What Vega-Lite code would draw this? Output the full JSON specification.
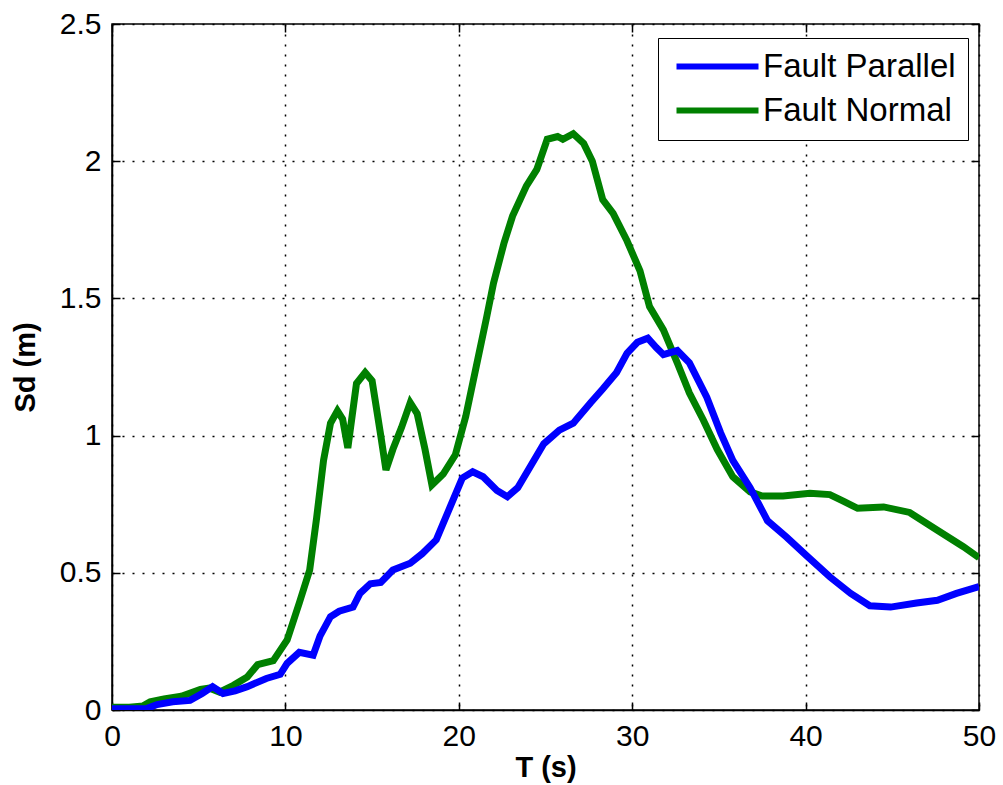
{
  "$schema": "https://vega.github.io/schema/vega-lite/v6.json",
  "width": 867,
  "height": 686,
  "autosize": {"type": "none"},
  "padding": {"left": 112, "top": 24, "right": 24, "bottom": 75},
  "background": "white",
  "config": {
    "font": "Liberation Sans",
    "view": {"stroke": "#000000", "strokeWidth": 1.5},
    "axis": {
      "labelFont": "Liberation Sans",
      "labelFontSize": 30,
      "labelColor": "#000000",
      "labelLimit": 0,
      "labelFlush": false,
      "titleFont": "Liberation Sans",
      "titleFontSize": 29,
      "titleFontWeight": "bold",
      "titleColor": "#000000",
      "domainColor": "#000000",
      "domainWidth": 1.5,
      "tickColor": "#000000",
      "tickWidth": 1.5,
      "gridColor": "#000000",
      "gridOpacity": 1,
      "gridWidth": 1.5,
      "gridDash": [2, 8]
    }
  },
  "data": {
    "values": [
      {"series": "Fault Normal", "T": 0, "Sd": 0.01},
      {"series": "Fault Normal", "T": 1, "Sd": 0.01},
      {"series": "Fault Normal", "T": 1.8, "Sd": 0.015},
      {"series": "Fault Normal", "T": 2.2, "Sd": 0.03},
      {"series": "Fault Normal", "T": 3, "Sd": 0.04},
      {"series": "Fault Normal", "T": 4, "Sd": 0.05},
      {"series": "Fault Normal", "T": 5.1, "Sd": 0.075},
      {"series": "Fault Normal", "T": 5.6, "Sd": 0.08},
      {"series": "Fault Normal", "T": 6.2, "Sd": 0.065},
      {"series": "Fault Normal", "T": 7, "Sd": 0.09},
      {"series": "Fault Normal", "T": 7.8, "Sd": 0.12},
      {"series": "Fault Normal", "T": 8.4, "Sd": 0.165},
      {"series": "Fault Normal", "T": 9.3, "Sd": 0.18},
      {"series": "Fault Normal", "T": 10.1, "Sd": 0.255},
      {"series": "Fault Normal", "T": 10.8, "Sd": 0.39},
      {"series": "Fault Normal", "T": 11.4, "Sd": 0.51},
      {"series": "Fault Normal", "T": 11.8, "Sd": 0.7},
      {"series": "Fault Normal", "T": 12.2, "Sd": 0.91},
      {"series": "Fault Normal", "T": 12.6, "Sd": 1.045},
      {"series": "Fault Normal", "T": 13.0, "Sd": 1.09},
      {"series": "Fault Normal", "T": 13.3, "Sd": 1.06},
      {"series": "Fault Normal", "T": 13.6, "Sd": 0.955},
      {"series": "Fault Normal", "T": 14.1, "Sd": 1.19},
      {"series": "Fault Normal", "T": 14.6, "Sd": 1.23},
      {"series": "Fault Normal", "T": 15.0, "Sd": 1.2},
      {"series": "Fault Normal", "T": 15.5, "Sd": 1.0},
      {"series": "Fault Normal", "T": 15.8, "Sd": 0.875},
      {"series": "Fault Normal", "T": 16.2, "Sd": 0.95},
      {"series": "Fault Normal", "T": 16.7, "Sd": 1.03},
      {"series": "Fault Normal", "T": 17.2, "Sd": 1.12},
      {"series": "Fault Normal", "T": 17.6, "Sd": 1.08},
      {"series": "Fault Normal", "T": 18.05, "Sd": 0.95},
      {"series": "Fault Normal", "T": 18.45, "Sd": 0.82},
      {"series": "Fault Normal", "T": 19.1, "Sd": 0.86},
      {"series": "Fault Normal", "T": 19.8, "Sd": 0.93},
      {"series": "Fault Normal", "T": 20.4, "Sd": 1.07},
      {"series": "Fault Normal", "T": 21.0, "Sd": 1.25},
      {"series": "Fault Normal", "T": 21.6, "Sd": 1.43},
      {"series": "Fault Normal", "T": 22.0, "Sd": 1.555},
      {"series": "Fault Normal", "T": 22.6, "Sd": 1.7},
      {"series": "Fault Normal", "T": 23.1, "Sd": 1.8},
      {"series": "Fault Normal", "T": 23.9, "Sd": 1.91},
      {"series": "Fault Normal", "T": 24.5, "Sd": 1.97},
      {"series": "Fault Normal", "T": 25.1, "Sd": 2.08},
      {"series": "Fault Normal", "T": 25.7, "Sd": 2.09},
      {"series": "Fault Normal", "T": 26.0, "Sd": 2.08},
      {"series": "Fault Normal", "T": 26.6, "Sd": 2.1},
      {"series": "Fault Normal", "T": 27.2, "Sd": 2.065},
      {"series": "Fault Normal", "T": 27.7, "Sd": 2.0},
      {"series": "Fault Normal", "T": 28.3, "Sd": 1.86},
      {"series": "Fault Normal", "T": 28.9, "Sd": 1.81},
      {"series": "Fault Normal", "T": 29.7, "Sd": 1.71},
      {"series": "Fault Normal", "T": 30.45, "Sd": 1.6},
      {"series": "Fault Normal", "T": 31.0, "Sd": 1.47},
      {"series": "Fault Normal", "T": 31.8, "Sd": 1.385},
      {"series": "Fault Normal", "T": 32.6, "Sd": 1.265},
      {"series": "Fault Normal", "T": 33.3, "Sd": 1.155},
      {"series": "Fault Normal", "T": 34.1, "Sd": 1.057},
      {"series": "Fault Normal", "T": 34.9, "Sd": 0.95},
      {"series": "Fault Normal", "T": 35.8, "Sd": 0.85},
      {"series": "Fault Normal", "T": 36.8, "Sd": 0.795},
      {"series": "Fault Normal", "T": 37.5, "Sd": 0.78},
      {"series": "Fault Normal", "T": 38.7, "Sd": 0.78},
      {"series": "Fault Normal", "T": 40.25, "Sd": 0.79},
      {"series": "Fault Normal", "T": 41.4, "Sd": 0.785},
      {"series": "Fault Normal", "T": 42.2, "Sd": 0.76},
      {"series": "Fault Normal", "T": 43.0, "Sd": 0.735},
      {"series": "Fault Normal", "T": 44.5, "Sd": 0.74},
      {"series": "Fault Normal", "T": 46.0, "Sd": 0.72},
      {"series": "Fault Normal", "T": 47.6, "Sd": 0.655},
      {"series": "Fault Normal", "T": 49.1, "Sd": 0.595},
      {"series": "Fault Normal", "T": 50, "Sd": 0.555},
      {"series": "Fault Parallel", "T": 0, "Sd": 0.005},
      {"series": "Fault Parallel", "T": 2.0, "Sd": 0.005},
      {"series": "Fault Parallel", "T": 2.6, "Sd": 0.02},
      {"series": "Fault Parallel", "T": 3.5, "Sd": 0.03},
      {"series": "Fault Parallel", "T": 4.5, "Sd": 0.035},
      {"series": "Fault Parallel", "T": 5.2, "Sd": 0.06},
      {"series": "Fault Parallel", "T": 5.8, "Sd": 0.085},
      {"series": "Fault Parallel", "T": 6.4, "Sd": 0.06},
      {"series": "Fault Parallel", "T": 7.1, "Sd": 0.07},
      {"series": "Fault Parallel", "T": 7.8, "Sd": 0.085},
      {"series": "Fault Parallel", "T": 8.9, "Sd": 0.115},
      {"series": "Fault Parallel", "T": 9.7, "Sd": 0.13},
      {"series": "Fault Parallel", "T": 10.1, "Sd": 0.17},
      {"series": "Fault Parallel", "T": 10.8, "Sd": 0.21},
      {"series": "Fault Parallel", "T": 11.6, "Sd": 0.2},
      {"series": "Fault Parallel", "T": 12.0, "Sd": 0.27},
      {"series": "Fault Parallel", "T": 12.6, "Sd": 0.34},
      {"series": "Fault Parallel", "T": 13.1, "Sd": 0.36},
      {"series": "Fault Parallel", "T": 13.9, "Sd": 0.375},
      {"series": "Fault Parallel", "T": 14.3, "Sd": 0.425},
      {"series": "Fault Parallel", "T": 14.9, "Sd": 0.46},
      {"series": "Fault Parallel", "T": 15.5, "Sd": 0.465},
      {"series": "Fault Parallel", "T": 16.2, "Sd": 0.51},
      {"series": "Fault Parallel", "T": 17.2, "Sd": 0.535},
      {"series": "Fault Parallel", "T": 17.9, "Sd": 0.57},
      {"series": "Fault Parallel", "T": 18.7, "Sd": 0.62},
      {"series": "Fault Parallel", "T": 19.5, "Sd": 0.74},
      {"series": "Fault Parallel", "T": 20.2, "Sd": 0.845},
      {"series": "Fault Parallel", "T": 20.8, "Sd": 0.868},
      {"series": "Fault Parallel", "T": 21.4, "Sd": 0.85},
      {"series": "Fault Parallel", "T": 22.2, "Sd": 0.8},
      {"series": "Fault Parallel", "T": 22.8, "Sd": 0.777},
      {"series": "Fault Parallel", "T": 23.4, "Sd": 0.81},
      {"series": "Fault Parallel", "T": 24.1, "Sd": 0.885},
      {"series": "Fault Parallel", "T": 24.9, "Sd": 0.97},
      {"series": "Fault Parallel", "T": 25.8, "Sd": 1.02},
      {"series": "Fault Parallel", "T": 26.6, "Sd": 1.045},
      {"series": "Fault Parallel", "T": 27.6, "Sd": 1.12},
      {"series": "Fault Parallel", "T": 28.3, "Sd": 1.17},
      {"series": "Fault Parallel", "T": 29.1, "Sd": 1.23},
      {"series": "Fault Parallel", "T": 29.7, "Sd": 1.3},
      {"series": "Fault Parallel", "T": 30.3, "Sd": 1.34},
      {"series": "Fault Parallel", "T": 30.9, "Sd": 1.355},
      {"series": "Fault Parallel", "T": 31.4, "Sd": 1.32},
      {"series": "Fault Parallel", "T": 31.8, "Sd": 1.295},
      {"series": "Fault Parallel", "T": 32.6, "Sd": 1.31},
      {"series": "Fault Parallel", "T": 33.3, "Sd": 1.265},
      {"series": "Fault Parallel", "T": 34.3, "Sd": 1.14},
      {"series": "Fault Parallel", "T": 35.1, "Sd": 1.01},
      {"series": "Fault Parallel", "T": 35.8, "Sd": 0.91},
      {"series": "Fault Parallel", "T": 36.8, "Sd": 0.81},
      {"series": "Fault Parallel", "T": 37.8, "Sd": 0.69},
      {"series": "Fault Parallel", "T": 38.9, "Sd": 0.63},
      {"series": "Fault Parallel", "T": 40.1, "Sd": 0.56},
      {"series": "Fault Parallel", "T": 41.4, "Sd": 0.485},
      {"series": "Fault Parallel", "T": 42.6, "Sd": 0.425},
      {"series": "Fault Parallel", "T": 43.7, "Sd": 0.38},
      {"series": "Fault Parallel", "T": 44.9, "Sd": 0.375},
      {"series": "Fault Parallel", "T": 46.4, "Sd": 0.39},
      {"series": "Fault Parallel", "T": 47.6, "Sd": 0.4},
      {"series": "Fault Parallel", "T": 48.7, "Sd": 0.425},
      {"series": "Fault Parallel", "T": 50, "Sd": 0.45}
    ]
  },
  "layer": [
    {
      "mark": {"type": "line", "strokeWidth": 7, "clip": true},
      "encoding": {
        "x": {
          "field": "T", "type": "quantitative",
          "scale": {"domain": [0, 50], "nice": false},
          "axis": {"title": "T (s)", "values": [0, 10, 20, 30, 40, 50], "format": "~f", "tickSize": -8, "labelPadding": 19, "titlePadding": 2, "grid": true}
        },
        "y": {
          "field": "Sd", "type": "quantitative",
          "scale": {"domain": [0, 2.5], "nice": false},
          "axis": {"title": "Sd (m)", "values": [0, 0.5, 1, 1.5, 2, 2.5], "format": "~f", "tickSize": -8, "labelPadding": 19, "titlePadding": 19, "grid": true}
        },
        "color": {
          "field": "series", "type": "nominal",
          "scale": {"domain": ["Fault Parallel", "Fault Normal"], "range": ["#0000FF", "#008000"]},
          "legend": {
            "title": null,
            "orient": "none",
            "legendX": 546,
            "legendY": 14,
            "symbolType": "M-1,0H7.2",
            "symbolSize": 400,
            "symbolStrokeWidth": 6,
            "symbolOffset": 0,
            "labelFont": "Liberation Sans",
            "labelFontSize": 33,
            "labelLimit": 0,
            "labelColor": "#000000",
            "labelOffset": 60,
            "rowPadding": 10,
            "padding": 12,
            "strokeColor": "#000000",
            "fillColor": "#FFFFFF"
          }
        },
        "order": {"field": "T", "type": "quantitative"}
      }
    },
    {
      "mark": {"type": "line", "strokeOpacity": 0},
      "encoding": {
        "x": {
          "field": "T", "type": "quantitative",
          "axis": {"orient": "top", "title": null, "labels": false, "grid": false, "domain": false, "values": [0, 10, 20, 30, 40, 50], "tickSize": -8}
        },
        "y": {
          "field": "Sd", "type": "quantitative",
          "axis": {"orient": "right", "title": null, "labels": false, "grid": false, "domain": false, "values": [0, 0.5, 1, 1.5, 2, 2.5], "tickSize": -8}
        },
        "detail": {"field": "series"}
      }
    }
  ],
  "resolve": {"axis": {"x": "independent", "y": "independent"}}
}
